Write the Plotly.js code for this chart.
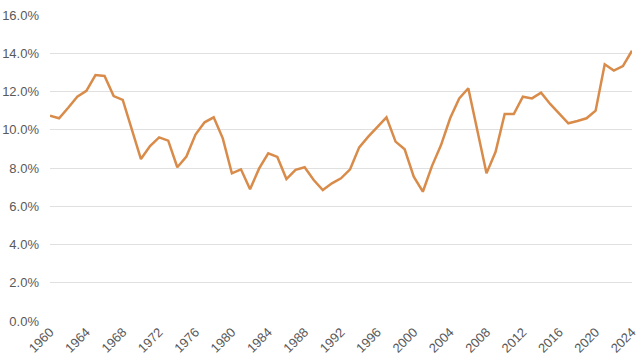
<!DOCTYPE html>
<html>
<head>
<meta charset="utf-8">
<script src="https://cdn.plot.ly/plotly-3.0.1.min.js"></script>
<style>html,body{margin:0;padding:0;background:#fff;}#chart{width:640px;height:364px;}</style>
</head>
<body>
<div id="chart"></div>
<script>
const years = [];
for (let y = 1960; y <= 2024; y++) years.push(y);
const values = [
  10.73, 10.6, 11.15, 11.73, 12.03, 12.86, 12.81, 11.76, 11.56, 10.07,
  8.47, 9.15, 9.6, 9.43, 8.04, 8.6, 9.75, 10.39, 10.65, 9.55,
  7.72, 7.93, 6.89, 7.98, 8.77, 8.58, 7.42, 7.9, 8.04, 7.37,
  6.85, 7.2, 7.46, 7.93, 9.08, 9.64, 10.16, 10.65, 9.38, 8.98,
  7.55, 6.76, 8.1, 9.2, 10.6, 11.64, 12.17, 9.95, 7.72, 8.85,
  10.82, 10.82, 11.73, 11.64, 11.94, 11.35, 10.82, 10.34, 10.46, 10.6,
  11.0, 13.42, 13.09, 13.33, 14.13
];
const xTicks = [1960,1964,1968,1972,1976,1980,1984,1988,1992,1996,2000,2004,2008,2012,2016,2020,2024];
const yTicks = [0,2,4,6,8,10,12,14,16];

const font = {family: 'Liberation Sans, Arial, sans-serif', size: 13, color: '#595959'};
Plotly.newPlot('chart', [{
  x: years,
  y: values,
  type: 'scatter',
  mode: 'lines',
  line: {color: '#d98b4a', width: 2.5},
  hoverinfo: 'skip'
}], {
  width: 640, height: 364,
  margin: {l: 50, r: 8, t: 15, b: 43},
  paper_bgcolor: '#fff', plot_bgcolor: '#fff',
  font: font,
  showlegend: false,
  xaxis: {
    range: [1960, 2024],
    tickvals: xTicks,
    ticktext: xTicks.map(String),
    tickangle: -45,
    showgrid: false,
    zeroline: false,
    showline: false,
    ticks: '',
    tickfont: font
  },
  yaxis: {
    range: [0, 16],
    tickvals: yTicks,
    ticktext: yTicks.map(v => v.toFixed(1) + '%'),
    showgrid: true,
    gridcolor: '#e0e0e0',
    gridwidth: 1,
    zeroline: false,
    showline: false,
    ticks: '',
    ticklabelstandoff: 10,
    tickfont: font
  }
}, {staticPlot: true});
</script>
</body>
</html>
